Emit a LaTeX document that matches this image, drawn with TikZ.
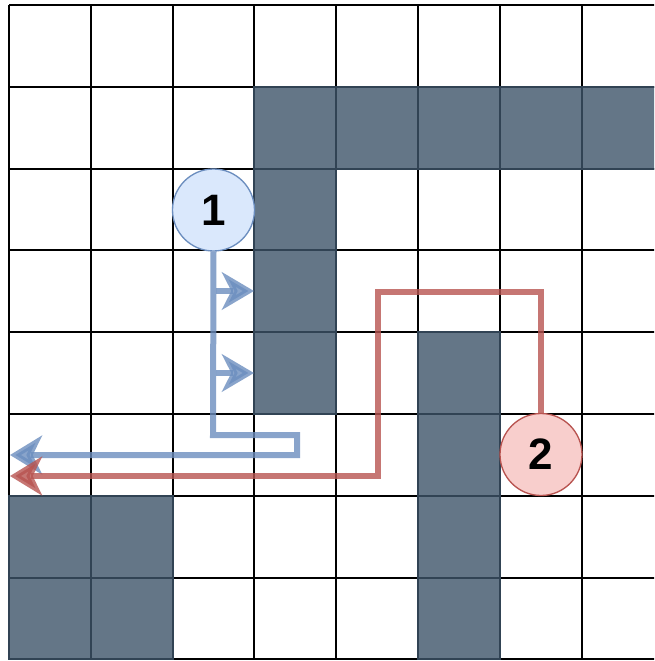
\documentclass[tikz,border=0pt]{standalone}
\usepackage{fontspec}
\setmainfont{Liberation Sans}
\usetikzlibrary{arrows.meta}
\definecolor{cellfill}{HTML}{647687}
\definecolor{cellline}{HTML}{314354}
\definecolor{bluefill}{HTML}{DAE8FC}
\definecolor{blueline}{HTML}{6C8EBF}
\definecolor{redfill}{HTML}{F8CECC}
\definecolor{redline}{HTML}{B85450}
\begin{document}
\begin{tikzpicture}[x=0.75pt,y=-0.75pt,
  gridline/.style={black,line width=1.5pt},
  wall/.style={fill=cellfill,draw=cellline,line width=1.5pt},
  marker/.style={circle,minimum size=61.5pt,inner sep=0pt,line width=1pt,font=\fontsize{33}{33}\selectfont\bfseries},
  route/.style={line width=4.5pt,opacity=0.8,-{Stealth[length=24pt,width=29pt,inset=7pt]}},
  hint/.style={line width=4.5pt,opacity=0.8,-{Stealth[length=24pt,width=28pt,inset=7pt]}}
  ]
\useasboundingbox (0,0) rectangle (654,661);
\fill[white] (0,0) rectangle (654,661);
\clip (0,0) rectangle (654,661);
% grid
\foreach \i in {0,...,7} {
  \draw[gridline] ({9+81.8*\i},5) -- ({9+81.8*\i},659.4);
}
\foreach \j in {0,...,8} {
  \draw[gridline] (9,{5+81.8*\j}) -- (670,{5+81.8*\j});
}
% walls
\foreach \c/\r in {3/1,4/1,5/1,6/1,7/1,3/2,3/3,3/4,5/4,5/5,0/6,1/6,5/6,0/7,1/7,5/7} {
  \draw[wall] ({9+81.8*\c},{5+81.8*\r}) rectangle +(81.8,81.8);
}
% markers
\node[marker,fill=bluefill,draw=blueline] (n1) at (213.5,210) {1};
\node[marker,fill=redfill,draw=redline] (n2) at (541,454.5) {2};
\coordinate (b1) at (10,455);
\coordinate (r1) at (10,476);
\coordinate (w1) at (254,291);
\coordinate (w2) at (254,373);
% routes
\draw[route,blueline] (n1.south) -- (213,435) -- (297,435) -- (297,455) -- (b1);
\draw[hint,blueline] (216,291) -- (w1);
\draw[hint,blueline] (216,373) -- (w2);
\draw[route,redline] (n2.north) -- (541,292) -- (378,292) -- (378,476) -- (r1);
\end{tikzpicture}
\end{document}
